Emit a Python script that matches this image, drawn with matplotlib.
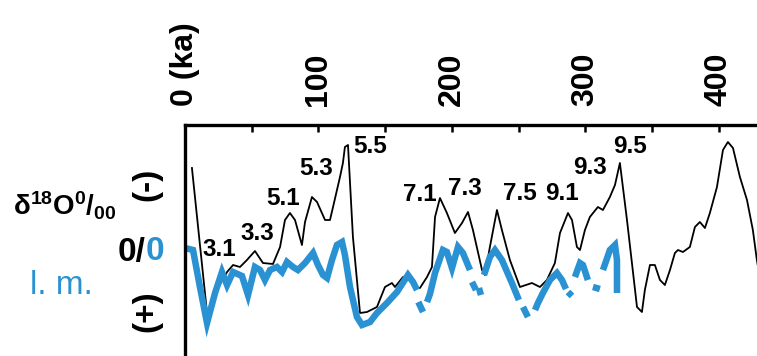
import numpy as np
import matplotlib
matplotlib.use("Agg")
from matplotlib import pyplot as plt

plt.rcParams['font.family'] = ['Liberation Sans', 'DejaVu Sans']
plt.rcParams['mathtext.fontset'] = 'custom'
plt.rcParams['mathtext.bf'] = 'Liberation Sans:bold'
plt.rcParams['mathtext.rm'] = 'Liberation Sans:bold'
plt.rcParams['mathtext.default'] = 'bf'

# benthic d18O stack (black), age in ka, relative d18O (positive = heavier)
black_age = [5.2, 16.5, 24.7, 31.5, 36, 41.2, 46.4, 52.4, 58.4, 65.9, 71.2, 74.9, 78.6,
             82.4, 87.6, 89.9, 95.1, 98.9, 104.9, 108.6, 110.9, 116.1, 118.3, 119.8,
             122.1, 125.8, 131.1, 136.3, 143.8, 149.8, 155, 157.3, 163.3, 167, 172.3,
             176, 181.3, 185, 187.3, 191, 196.2, 202.2, 207.5, 212, 215.7, 222.5,
             224.7, 228.4, 233.7, 237.4, 243.4, 250.9, 259.9, 265.9, 271.1, 277.1,
             280.9, 286.9, 289.9, 293.6, 295.9, 299.6, 303.3, 309.3, 313.1, 318.3,
             322.1, 325.8, 331.1, 338.6, 342.3, 344.5, 348.3, 352, 355.8, 359.5,
             363.3, 367, 369.3, 373, 378.2, 382, 385.7, 389.5, 393.2, 398.5, 403,
             406.7, 410.5, 415.7, 421, 425.4, 428.4, 432]
black_d18o = [-0.75, 0.70, 0.45, 0.29, 0.22, 0.24, 0.17, 0.08, 0.20, 0.21, 0.04, -0.23,
              -0.30, -0.23, 0.02, -0.21, -0.46, -0.41, -0.23, -0.23, -0.36, -0.66,
              -0.80, -0.96, -0.98, -0.06, 0.70, 0.69, 0.64, 0.44, 0.40, 0.44, 0.34,
              0.34, 0.45, 0.45, 0.34, 0.24, -0.26, -0.45, -0.30, -0.10, -0.20, -0.31,
              -0.13, 0.27, 0.32, 0.04, -0.33, -0.13, 0.17, 0.44, 0.40, 0.44, 0.37,
              0.20, -0.10, -0.30, -0.23, 0.04, 0.07, -0.13, -0.26, -0.36, -0.33,
              -0.46, -0.58, -0.80, -0.23, 0.64, 0.69, 0.47, 0.22, 0.22, 0.37, 0.42,
              0.27, 0.10, 0.07, 0.09, 0.04, -0.16, -0.21, -0.15, -0.30, -0.56, -0.93,
              -1.01, -0.95, -0.66, -0.43, -0.13, 0.17, 0.45]

# lake-level curve (blue), nan = gap
nan = np.nan
blue_age = [0, 6, 11.2, 16.5, 22.5, 27.7, 31.5, 36, 42.7, 47.2, 52.4, 56.2, 59.9, 63.7,
            68.9, 72.7, 76.4, 80.9, 84.6, 89.9, 95.9, 99.6, 103.4, 106.4, 110.1, 113.8,
            117.6, 119.8, 123.6, 128.8, 132.6, 138.6, 143.8, 151.3, 158.8, 167, 170.8,
            173.8, 174.2, 174.8, 178.3, 179.8, 181.3, 183.5, 187.3, 193.2, 196.2, 200,
            204.5, 208.2, 213.5, 214.2, 215, 218, 219.1, 220.2, 221.7, 222.8, 224,
            228.4, 232.2, 237.4, 244.9, 250.1, 251.6, 253.2, 256.9, 259.5, 262.2,
            264.4, 268.1, 273.4, 278.6, 282.4, 285.4, 286.1, 286.9, 289.9, 291, 292.1,
            295.9, 298.1, 301.8, 303.7, 305.6, 310.8, 312, 313.1, 318.3, 322.1, 323.6,
            323.6]
blue_lm = [0.05, 0.07, 0.44, 0.80, 0.50, 0.29, 0.42, 0.29, 0.33, 0.52, 0.24, 0.27, 0.37,
           0.27, 0.24, 0.29, 0.19, 0.24, 0.27, 0.20, 0.10, 0.22, 0.32, 0.35, 0.17, 0.02,
           -0.01, 0.12, 0.44, 0.74, 0.82, 0.79, 0.70, 0.60, 0.49, 0.32, 0.39, 0.47, nan,
           0.59, 0.69, nan, 0.59, 0.51, 0.30, 0.07, 0.09, 0.25, 0.04, 0.10, 0.27, nan,
           0.39, 0.47, nan, 0.45, 0.52, nan, 0.32, 0.14, 0.07, 0.17, 0.40, 0.57, nan,
           0.64, 0.74, nan, 0.67, 0.60, 0.50, 0.37, 0.30, 0.37, 0.46, nan, 0.49, 0.53,
           nan, 0.34, 0.20, 0.22, 0.37, nan, 0.44, 0.46, nan, 0.27, 0.07, 0.02, 0.17,
           0.50]

# marine isotope stage labels
mis_names = ['3.1', '3.3', '5.1', '5.3', '5.5', '7.1', '7.3', '7.5', '9.1', '9.3', '9.5']
mis_age = [25.5, 53.9, 73.4, 98.1, 138.6, 176, 209.7, 250.9, 282.4, 303.3, 333.3]
mis_level = [0.07, -0.10, -0.44, -0.74, -0.96, -0.48, -0.54, -0.49, -0.49, -0.75, -0.96]

tick_vals = [0, 50, 100, 150, 200, 250, 300, 350, 400]
tick_text = ['0 (ka)', '', '100', '', '200', '', '300', '', '400']

blue = '#2a92d2'

fig = plt.figure(figsize=(7.57, 3.56), dpi=100)
ax = fig.add_axes([185 / 757, 0, 572 / 757, 231 / 356])

ax.plot(black_age, black_d18o, color='black', lw=1.3)
ax.plot(blue_age, blue_lm, color=blue, lw=4.7, solid_capstyle='butt',
        solid_joinstyle='miter')

for name, a, lv in zip(mis_names, mis_age, mis_level):
    ax.text(a, lv, name, fontsize=17.5, fontweight='bold', ha='center', va='center')

ax.set_xlim(0, 428.5)
ax.set_ylim(1.13, -1.18)
ax.xaxis.tick_top()
ax.set_xticks(tick_vals)
ax.set_xticklabels(tick_text, rotation=90, fontsize=23, fontweight='bold')
ax.tick_params(axis='x', direction='in', length=5, width=1.8, pad=14)
ax.set_yticks([])
for s in ['right', 'bottom']:
    ax.spines[s].set_visible(False)
for s in ['left', 'top']:
    ax.spines[s].set_linewidth(2.4)

W, H = 757, 356
fig.text(13 / W, 1 - 215 / H, r'δ$^{18}$O$^{0}$/$_{00}$', fontsize=20,
         fontweight='bold', ha='left', va='baseline')
fig.text(118 / W, 1 - 252 / H, '0/', fontsize=24, fontweight='bold',
         ha='left', va='center')
fig.text(146 / W, 1 - 252 / H, '0', fontsize=24, fontweight='bold', color=blue,
         ha='left', va='center')
fig.text(61 / W, 1 - 285 / H, 'l. m.', fontsize=24, color=blue,
         ha='center', va='center')
fig.text(147 / W, 1 - 184 / H, '(-)', fontsize=24, fontweight='bold', rotation=90,
         ha='center', va='center')
fig.text(147 / W, 1 - 311 / H, '(+)', fontsize=24, fontweight='bold', rotation=90,
         ha='center', va='center')

fig.savefig('out.png', dpi=100)
